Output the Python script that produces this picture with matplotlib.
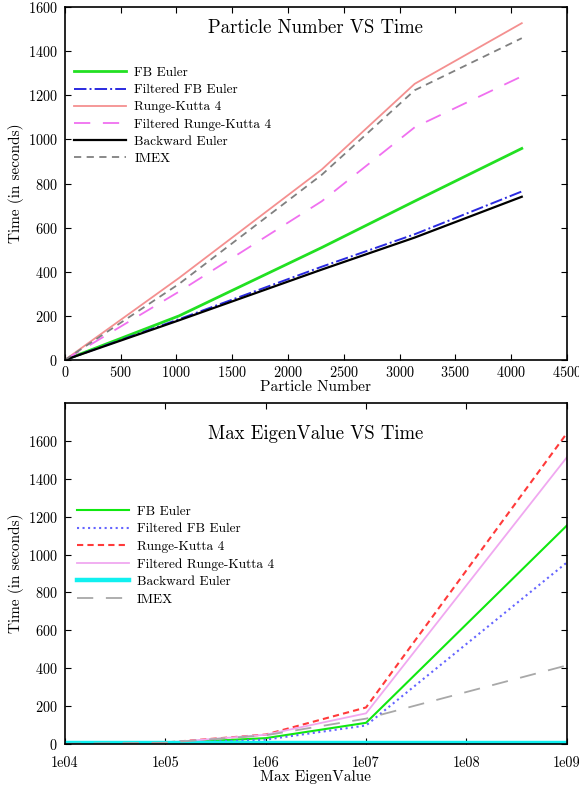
import numpy as np
import matplotlib
matplotlib.use('Agg')
import matplotlib.pyplot as plt

plt.rcParams['font.family'] = ['cmr10', 'DejaVu Serif']
plt.rcParams['axes.formatter.use_mathtext'] = True

# --- top panel: time vs particle number
particles = [0, 1024, 2304, 3136, 4096]
fb_euler = [0, 200, 510, 720, 959]
filt_fb_euler = [0, 185, 423, 570, 764]
rk4 = [0, 372, 864, 1252, 1527]
filt_rk4 = [0, 310, 720, 1055, 1286]
back_euler = [0, 180, 410, 555, 740]
imex = [0, 345, 840, 1223, 1459]

# --- bottom panel: time vs max eigenvalue
eig = [1e4, 1e5, 1e6, 1e7, 1e9]
e_fb_euler = [1, 5, 31, 112, 1153]
e_filt_fb = [1, 4, 23, 98, 958]
e_rk4 = [1, 8, 50, 193, 1640]
e_filt_rk4 = [1, 7, 49, 162, 1513]
e_back_euler = [5, 5, 5, 5, 5]
e_imex = [1, 7, 46, 134, 415]
eig_ticks = [1e4, 1e5, 1e6, 1e7, 1e8, 1e9]
eig_labels = ['1e04', '1e05', '1e06', '1e07', '1e08', '1e09']

fig = plt.figure(figsize=(5.79, 7.87), dpi=100)
ax1 = fig.add_axes([0.112, 0.5426, 0.867, 0.4484])
ax2 = fig.add_axes([0.112, 0.0546, 0.867, 0.4334])

ax1.plot(particles, fb_euler, color='#22e022', lw=2.0, label='FB Euler')
ax1.plot(particles, filt_fb_euler, color='#2a2ae0', lw=1.4, ls='-.', label='Filtered FB Euler')
ax1.plot(particles, rk4, color='#f49090', lw=1.3, label='Runge-Kutta 4')
ax1.plot(particles, filt_rk4, color='#f070f0', lw=1.3, dashes=(9, 7), label='Filtered Runge-Kutta 4')
ax1.plot(particles, back_euler, color='black', lw=1.6, label='Backward Euler')
ax1.plot(particles, imex, color='#808080', lw=1.3, dashes=(4, 3), label='IMEX')
ax1.set_xlim(0, 4500)
ax1.set_ylim(0, 1600)
ax1.set_xticks(np.arange(0, 4501, 500))
ax1.set_yticks(np.arange(0, 1601, 200))
ax1.set_xlabel('Particle Number', fontsize=11, labelpad=0)
ax1.set_ylabel('Time (in seconds)', fontsize=11, labelpad=3)
ax1.text(0.5, 0.94, 'Particle Number VS Time', transform=ax1.transAxes,
         ha='center', va='center', fontsize=13.5)
ax1.legend(loc='upper left', bbox_to_anchor=(-0.005, 0.865), frameon=False,
           fontsize=9.6, handlelength=3.9, labelspacing=0.36, handletextpad=0.6)

ax2.plot(eig, e_fb_euler, color='#10e810', lw=1.5, label='FB Euler')
ax2.plot(eig, e_filt_fb, color='#6464ff', lw=1.5, ls=':', label='Filtered FB Euler')
ax2.plot(eig, e_rk4, color='#ff3a3a', lw=1.5, dashes=(3, 2), label='Runge-Kutta 4')
ax2.plot(eig, e_filt_rk4, color='#f0a8f0', lw=1.3, label='Filtered Runge-Kutta 4')
ax2.plot(eig, e_back_euler, color='#10f0f0', lw=3.2, label='Backward Euler')
ax2.plot(eig, e_imex, color='#a8a8a8', lw=1.3, dashes=(9, 7), label='IMEX')
ax2.set_xscale('log')
ax2.set_xlim(1e4, 1e9)
ax2.set_ylim(0, 1800)
ax2.set_xticks(eig_ticks)
ax2.set_xticklabels(eig_labels)
ax2.minorticks_off()
ax2.set_yticks(np.arange(0, 1601, 200))
ax2.set_xlabel('Max EigenValue', fontsize=11, labelpad=0)
ax2.set_ylabel('Time (in seconds)', fontsize=11, labelpad=3)
ax2.text(0.5, 0.91, 'Max EigenValue VS Time', transform=ax2.transAxes,
         ha='center', va='center', fontsize=13.5)
ax2.legend(loc='upper left', bbox_to_anchor=(0.0, 0.735), frameon=False,
           fontsize=9.6, handlelength=3.9, labelspacing=0.39, handletextpad=0.6)

for ax in (ax1, ax2):
    ax.tick_params(direction='in', top=True, right=True, labelsize=10.3, length=4)
    ax.tick_params(axis='y', pad=5)
    for s in ax.spines.values():
        s.set_linewidth(1.2)
ax2.tick_params(axis='x', pad=9)

plt.savefig('out.png', dpi=100)
